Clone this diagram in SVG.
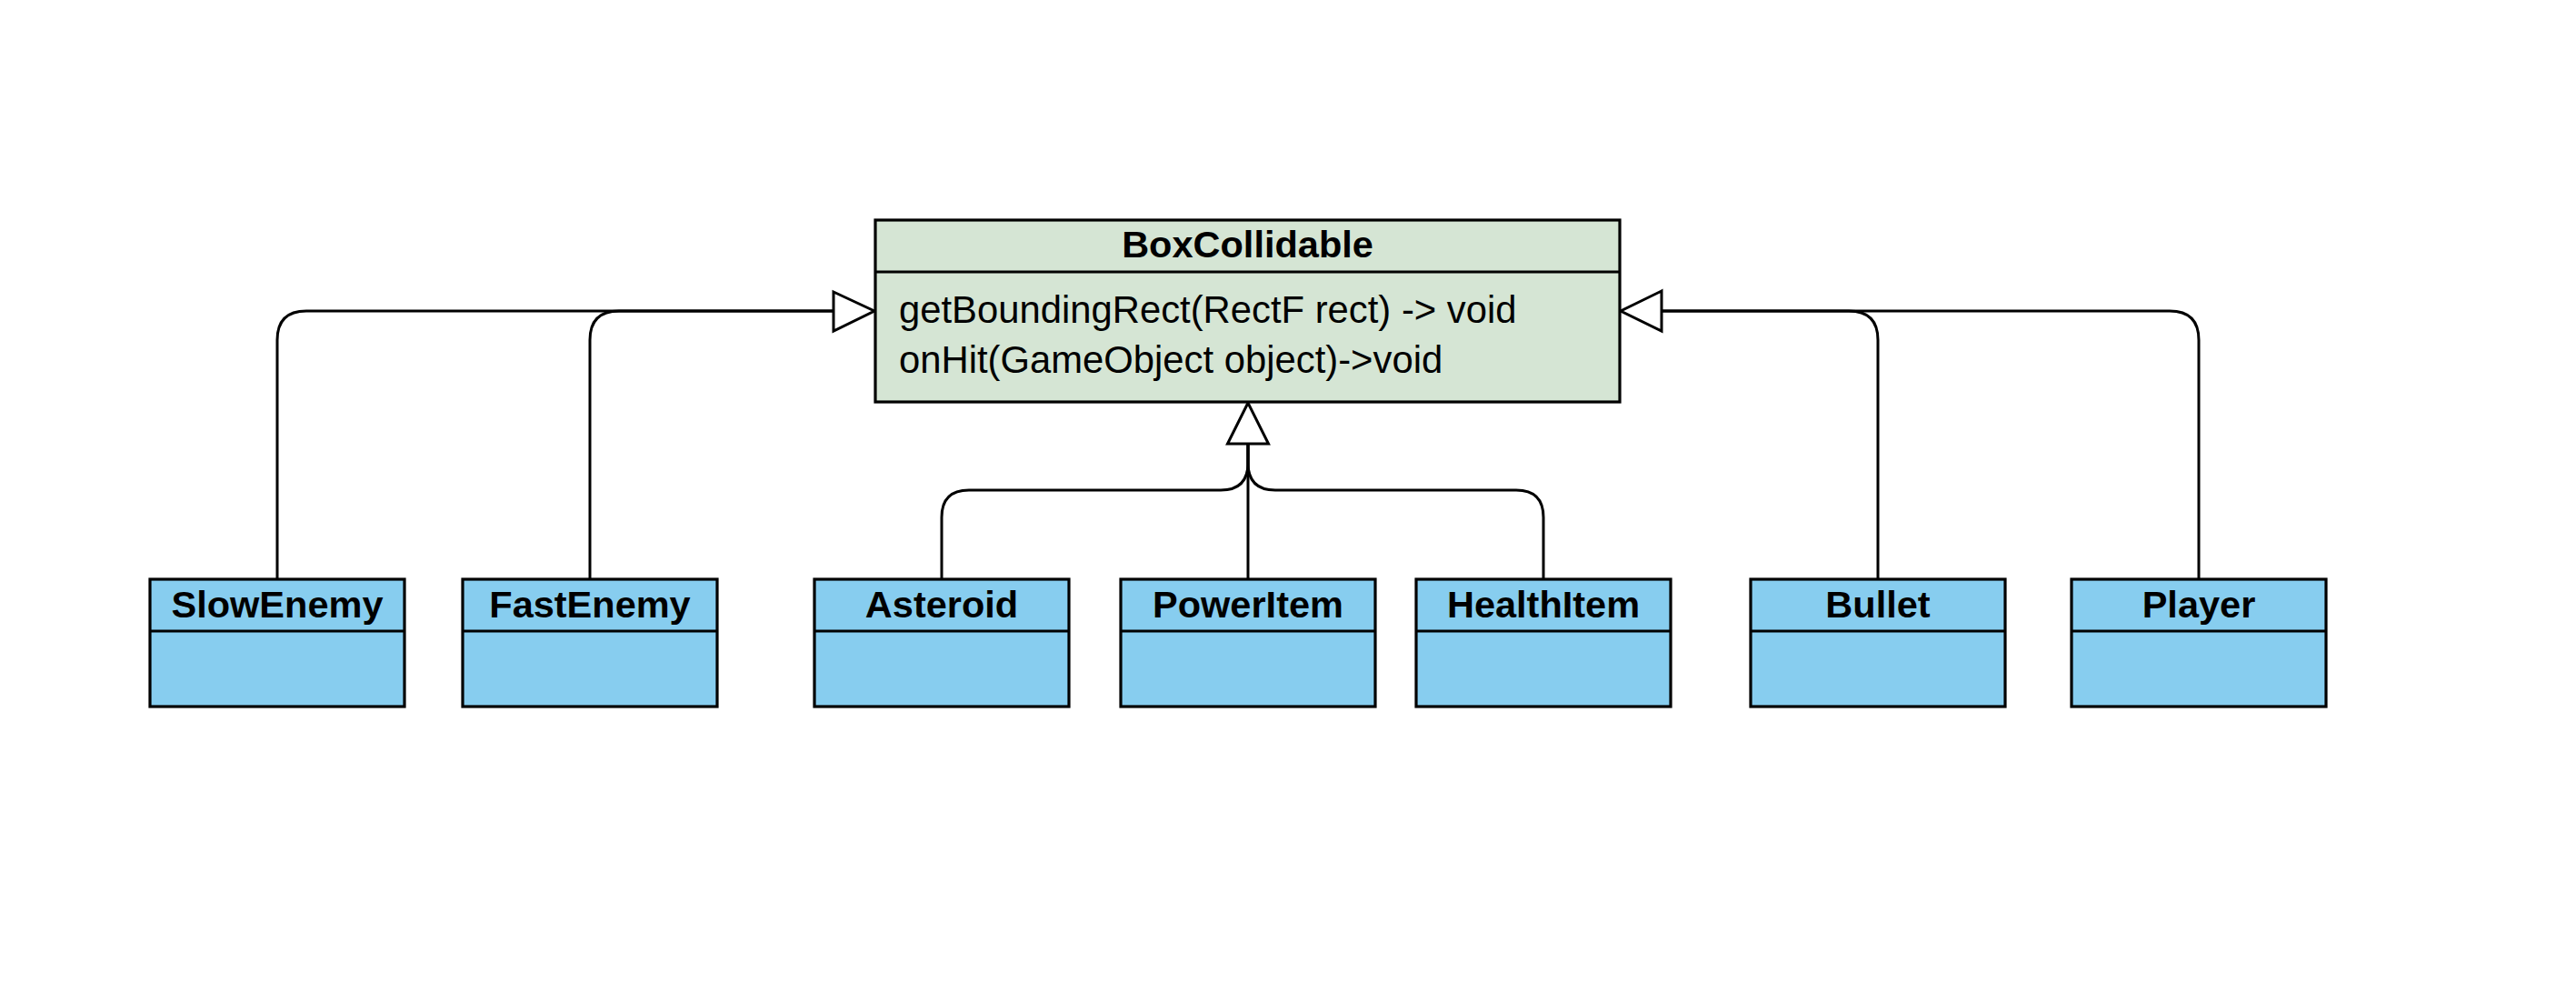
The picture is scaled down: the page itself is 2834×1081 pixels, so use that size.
<svg xmlns="http://www.w3.org/2000/svg" width="2834" height="1081" viewBox="0 0 2834 1081">
<style>
.bg{fill:#ffffff}
.main{fill:#d5e5d4;stroke:#000;stroke-width:3.2}
.cls{fill:#87cdef;stroke:#000;stroke-width:3.2}
.div{stroke:#000;stroke-width:3.2;fill:none}
.title{font-family:"Liberation Sans",Arial,sans-serif;font-weight:bold;font-size:41.5px;text-anchor:middle;fill:#000}
.meth{font-family:"Liberation Sans",Arial,sans-serif;font-size:41.8px;fill:#000}
.edge{fill:none;stroke:#000;stroke-width:3}
.head{fill:#fff;stroke:#000;stroke-width:3;stroke-linejoin:miter}
</style>
<rect class="bg" x="0" y="0" width="2834" height="1081"/>
<g id="connectors">
  <path class="edge" d="M305,637 V374 Q305,342 337,342 H917"/>
  <path class="edge" d="M649,637 V374 Q649,342 681,342 H917"/>
  <polygon class="head" points="917,321 962,342 917,364"/>
  <path class="edge" d="M2066,637 V374 Q2066,342 2034,342 H1828"/>
  <path class="edge" d="M2419,637 V374 Q2419,342 2387,342 H1828"/>
  <polygon class="head" points="1828,320 1783,342 1828,364"/>
  <path class="edge" d="M1036,637 V569 Q1036,539 1066,539 H1343 Q1373,539 1373,509 V488"/>
  <path class="edge" d="M1698,637 V569 Q1698,539 1668,539 H1403 Q1373,539 1373,509 V488"/>
  <path class="edge" d="M1373,637 V488"/>
  <polygon class="head" points="1373,443 1350.5,488 1395.5,488"/>
</g>
<g id="BoxCollidable">
  <rect class="main" x="963" y="242" width="819" height="200"/>
  <line class="div" x1="963" y1="299" x2="1782" y2="299"/>
  <text class="title" x="1372.5" y="283">BoxCollidable</text>
  <text class="meth" x="989" y="355">getBoundingRect(RectF rect) -&gt; void</text>
  <text class="meth" x="989" y="410">onHit(GameObject object)-&gt;void</text>
</g>
<g id="SlowEnemy">
  <rect class="cls" x="165" y="637" width="280" height="140"/>
  <line class="div" x1="165" y1="694" x2="445" y2="694"/>
  <text class="title" x="305" y="679">SlowEnemy</text>
</g>
<g id="FastEnemy">
  <rect class="cls" x="509" y="637" width="280" height="140"/>
  <line class="div" x1="509" y1="694" x2="789" y2="694"/>
  <text class="title" x="649" y="679">FastEnemy</text>
</g>
<g id="Asteroid">
  <rect class="cls" x="896" y="637" width="280" height="140"/>
  <line class="div" x1="896" y1="694" x2="1176" y2="694"/>
  <text class="title" x="1036" y="679">Asteroid</text>
</g>
<g id="PowerItem">
  <rect class="cls" x="1233" y="637" width="280" height="140"/>
  <line class="div" x1="1233" y1="694" x2="1513" y2="694"/>
  <text class="title" x="1373" y="679">PowerItem</text>
</g>
<g id="HealthItem">
  <rect class="cls" x="1558" y="637" width="280" height="140"/>
  <line class="div" x1="1558" y1="694" x2="1838" y2="694"/>
  <text class="title" x="1698" y="679">HealthItem</text>
</g>
<g id="Bullet">
  <rect class="cls" x="1926" y="637" width="280" height="140"/>
  <line class="div" x1="1926" y1="694" x2="2206" y2="694"/>
  <text class="title" x="2066" y="679">Bullet</text>
</g>
<g id="Player">
  <rect class="cls" x="2279" y="637" width="280" height="140"/>
  <line class="div" x1="2279" y1="694" x2="2559" y2="694"/>
  <text class="title" x="2419" y="679">Player</text>
</g>
</svg>
